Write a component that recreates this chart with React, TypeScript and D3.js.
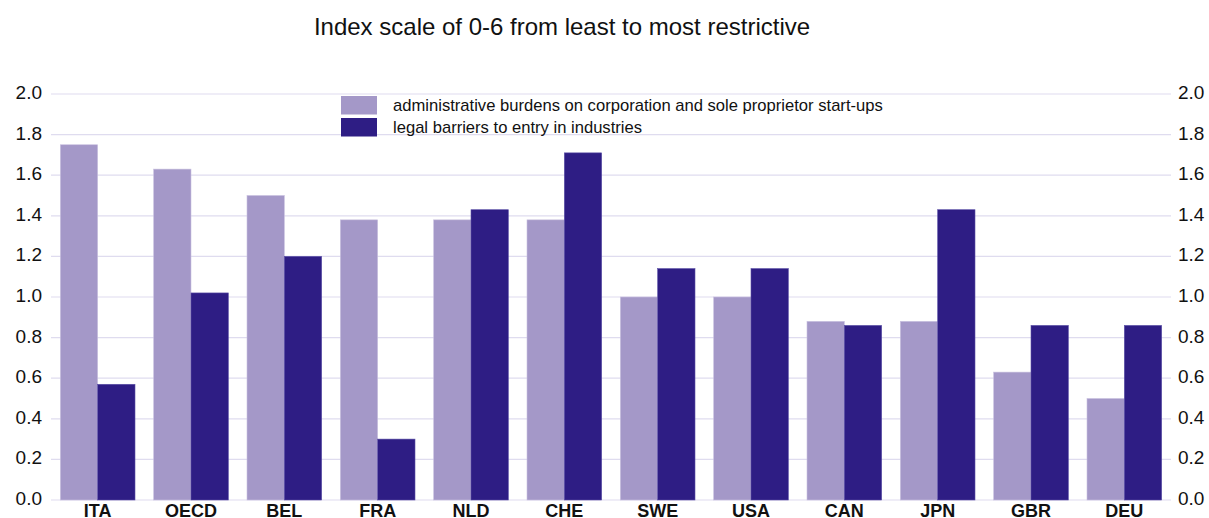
import React from "react";
import * as d3 from "d3";

const categories = ["ITA", "OECD", "BEL", "FRA", "NLD", "CHE", "SWE", "USA", "CAN", "JPN", "GBR", "DEU"];
const adminBurdens = [1.75, 1.63, 1.5, 1.38, 1.38, 1.38, 1.0, 1.0, 0.88, 0.88, 0.63, 0.5];
const legalBarriers = [0.57, 1.02, 1.2, 0.3, 1.43, 1.71, 1.14, 1.14, 0.86, 1.43, 0.86, 0.86];
const seriesNames = [
  "administrative burdens on corporation and sole proprietor start-ups",
  "legal barriers to entry in industries",
];
const yTicks = [0, 0.2, 0.4, 0.6, 0.8, 1.0, 1.2, 1.4, 1.6, 1.8, 2.0];
const title = "Index scale of 0-6 from least to most restrictive";

const W = 1209;
const H = 518;
const LIGHT = "#a498c8";
const DARK = "#2e1d84";
const GRID = "#dfdcef";
const FONT = "'Liberation Sans', Arial, sans-serif";

export default function App() {
  const left = 51;
  const right = 1171;
  const top = 94;
  const bottom = 500;
  const x = d3.scaleBand<string>().domain(categories).range([left, right]).paddingInner(0.2).paddingOuter(0.1);
  const x1 = d3.scaleBand<number>().domain([0, 1]).range([0, x.bandwidth()]).padding(0);
  const y = d3.scaleLinear().domain([0, 2]).range([bottom, top]);
  const series = [adminBurdens, legalBarriers];
  const colors = [LIGHT, DARK];
  const strokes = ["#c9c1e0", "#5a4ea6"];

  return (
    <svg width={W} height={H} style={{ position: "absolute", left: 0, top: 0, background: "#fff" }} fontFamily={FONT}>
      <text x={562} y={35} textAnchor="middle" fontSize={24} fill="#111">{title}</text>
      {yTicks.map((t) => (
        <g key={t}>
          <line x1={left} x2={right} y1={y(t)} y2={y(t)} stroke={GRID} strokeWidth={1.2} />
          <text x={42} y={y(t) + 5} textAnchor="end" fontSize={19} fill="#111">{d3.format(".1f")(t)}</text>
          <text x={1178} y={y(t) + 5} textAnchor="start" fontSize={19} fill="#111">{d3.format(".1f")(t)}</text>
        </g>
      ))}
      {categories.map((c, i) => (
        <g key={c} transform={`translate(${x(c)},0)`}>
          {series.map((s, j) => (
            <rect
              key={j}
              x={x1(j)}
              y={y(s[i])}
              width={x1.bandwidth()}
              height={y(0) - y(s[i])}
              fill={colors[j]}
              stroke={strokes[j]}
              strokeWidth={0.6}
            />
          ))}
          <text x={x.bandwidth() / 2} y={517} textAnchor="middle" fontSize={18} fontWeight="bold" fill="#111">{c}</text>
        </g>
      ))}
      <g>
        {seriesNames.map((n, j) => (
          <g key={n} transform={`translate(341,${96 + j * 22})`}>
            <rect x={0} y={0} width={36} height={18.5} fill={colors[j]} />
            <text x={52} y={9.5} dy="0.35em" fontSize={16.6} fill="#111">{n}</text>
          </g>
        ))}
      </g>
    </svg>
  );
}
